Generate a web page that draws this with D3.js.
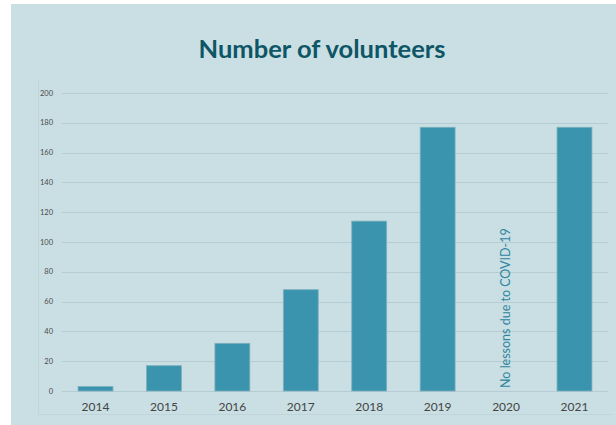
<!DOCTYPE html>
<html><head><meta charset="utf-8">
<script src="https://cdn.jsdelivr.net/npm/d3@7"></script>
<style>html,body{margin:0;padding:0;background:#fff;}svg{display:block;}</style>
</head><body>
<svg id="c" width="616" height="425"></svg>
<script>
const categories = ["2014","2015","2016","2017","2018","2019","2020","2021"];
const volunteers = [3, 17, 32, 68, 114, 177, null, 177];
const yTicks = [0,20,40,60,80,100,120,140,160,180,200];
const title = "Number of volunteers";
const note = "No lessons due to COVID-19";
const noteCategory = "2020";

const svg = d3.select("#c");
svg.append("rect").attr("x",11).attr("y",4).attr("width",605).attr("height",421).attr("fill","#c9dfe3");

// faint inner border
svg.append("path").attr("d","M38.5,80 V414.5 H613").attr("fill","none").attr("stroke","#bfd5da").attr("stroke-width",1);

const x = d3.scaleBand().domain(categories).range([61.3, 608.7]).paddingInner(0.49).paddingOuter(0.245);
const y = d3.scaleLinear().domain([0,200]).range([391, 93]);

// gridlines
svg.append("g").selectAll("line").data(yTicks).join("line")
  .attr("x1",62).attr("x2",608)
  .attr("y1",d=>Math.round(y(d))+0.5).attr("y2",d=>Math.round(y(d))+0.5)
  .attr("stroke","#b5ccd2").attr("stroke-width",1);

// y labels
svg.append("g").selectAll("text").data(yTicks).join("text")
  .attr("x",53).attr("y",d=>y(d)+2.5).attr("text-anchor","end")
  .attr("font-family","Lato, 'Open Sans', sans-serif").attr("font-size",7.5).attr("fill","#4a4a4a")
  .text(d=>d);

// bars
svg.append("g").selectAll("rect").data(categories.map((c,i)=>({c,v:volunteers[i]})).filter(d=>d.v!=null)).join("rect")
  .attr("x",d=>x(d.c)).attr("width",x.bandwidth())
  .attr("y",d=>y(d.v)).attr("height",d=>y(0)-y(d.v))
  .attr("fill","#3a94ae").attr("stroke","#7fb0bd").attr("stroke-width",0.8);

// x labels
svg.append("g").selectAll("text").data(categories).join("text")
  .attr("x",d=>x(d)+x.bandwidth()/2).attr("y",411).attr("text-anchor","middle")
  .attr("font-family","Lato, 'Open Sans', sans-serif").attr("font-size",12).attr("fill","#444")
  .text(d=>d);

// note
const nx = x(noteCategory)+x.bandwidth()/2 + 4;
svg.append("text").attr("transform",`translate(${nx},388) rotate(-90)`)
  .attr("font-family","Lato, 'Open Sans', sans-serif").attr("font-size",12.5).attr("fill","#2f86a0")
  .text(note);

// title
svg.append("text").attr("x",322).attr("y",58).attr("text-anchor","middle")
  .attr("font-family","Lato, 'Open Sans', sans-serif").attr("font-weight","bold").attr("font-size",25.5)
  .attr("fill","#0e5566").text(title);
</script>
</body></html>
